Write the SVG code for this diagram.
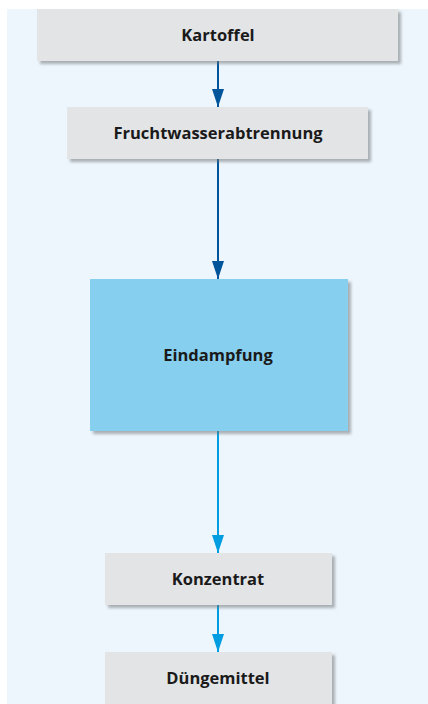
<svg xmlns="http://www.w3.org/2000/svg" width="428" height="704" viewBox="0 0 428 704">
<defs>
<filter id="sh" x="-10%" y="-10%" width="130%" height="140%">
<feDropShadow dx="3" dy="3" stdDeviation="1.5" flood-color="#6e7478" flood-opacity="0.55"/>
</filter>
<marker id="ad" viewBox="0 0 18 12" refX="18" refY="6" markerWidth="18" markerHeight="12" markerUnits="userSpaceOnUse" orient="auto">
<path d="M0,0 L18,6 L0,12 Z" fill="#00559a"/>
</marker>
<marker id="al" viewBox="0 0 18 12" refX="18" refY="6" markerWidth="18" markerHeight="12" markerUnits="userSpaceOnUse" orient="auto">
<path d="M0,0 L18,6 L0,12 Z" fill="#009ee0"/>
</marker>
</defs>
<style>
.box{fill:#e3e4e6;filter:url(#sh)}
.hl{fill:#87cfee;filter:url(#sh)}
.t{font-family:"Open Sans","Liberation Sans",sans-serif;font-weight:bold;font-size:16.5px;fill:#1a1a1a;text-anchor:middle}
.cd{stroke:#00559a;stroke-width:2;fill:none}
.cl{stroke:#009ee0;stroke-width:2;fill:none}
</style>
<rect width="428" height="704" fill="#ffffff"/>
<rect x="7" y="9" width="421" height="695" fill="#eef6fd"/>
<g id="connectors">
<line class="cd" x1="218" y1="61" x2="218" y2="107" marker-end="url(#ad)"/>
<line class="cd" x1="218" y1="159" x2="218" y2="279" marker-end="url(#ad)"/>
<line class="cl" x1="218" y1="431" x2="218" y2="553" marker-end="url(#al)"/>
<line class="cl" x1="218" y1="605" x2="218" y2="652" marker-end="url(#al)"/>
</g>
<g id="kartoffel">
<rect class="box" x="37" y="9" width="361" height="52"/>
<text class="t" x="218" y="41">Kartoffel</text>
</g>
<g id="fruchtwasserabtrennung">
<rect class="box" x="67" y="107" width="301" height="52"/>
<text class="t" x="218" y="139">Fruchtwasserabtrennung</text>
</g>
<g id="eindampfung">
<rect class="hl" x="90" y="279" width="258" height="152"/>
<text class="t" x="218" y="361">Eindampfung</text>
</g>
<g id="konzentrat">
<rect class="box" x="105" y="553" width="227" height="52"/>
<text class="t" x="218" y="585">Konzentrat</text>
</g>
<g id="duengemittel">
<rect class="box" x="105" y="652" width="227" height="60"/>
<text class="t" x="218" y="684">Düngemittel</text>
</g>
</svg>
